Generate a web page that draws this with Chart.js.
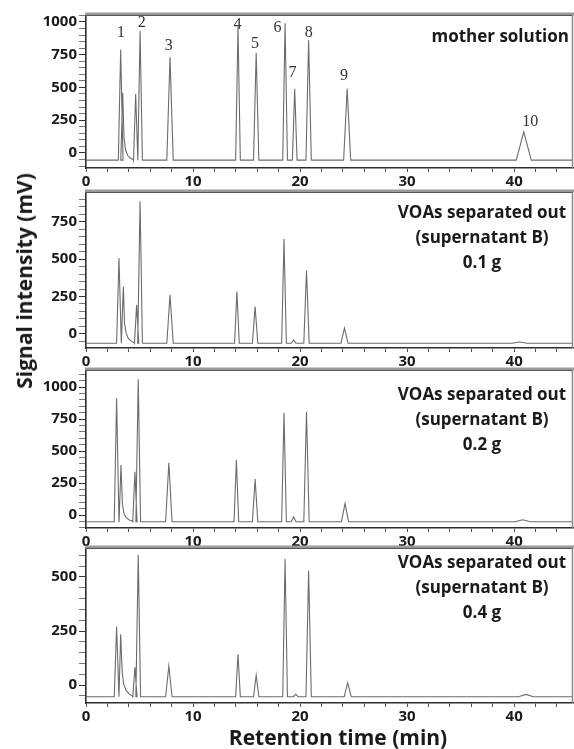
<!DOCTYPE html>
<html>
<head>
<meta charset="utf-8">
<script src="https://cdn.jsdelivr.net/npm/chart.js@4.4.0/dist/chart.umd.min.js"></script>
<style>
  html, body { margin: 0; padding: 0; background: #fff; }
  #wrap { position: relative; width: 574px; height: 749px; overflow: hidden;
          font-family: 'Open Sans', sans-serif; color: #1a1a1a; }
  #wrap canvas { position: absolute; left: 0; }
  .txt { position: absolute; font-weight: 700; font-size: 17px; line-height: 25px; white-space: nowrap; }
  .note { text-align: center; width: 220px; margin-left: -110px; }
  #ytitle { position: absolute; left: 24px; top: 281px; font-weight: 700; font-size: 21px; white-space: nowrap;
            transform: translate(-50%, -50%) rotate(-90deg); }
  #xtitle { position: absolute; left: 338px; top: 723px; font-weight: 700; font-size: 21px; line-height: 28px;
            white-space: nowrap; transform: translateX(-50%); }
</style>
</head>
<body>
<div id="wrap">
  <canvas id="c1"></canvas>
  <canvas id="c2"></canvas>
  <canvas id="c3"></canvas>
  <canvas id="c4"></canvas>

  <div class="txt" style="right:5px; top:23px;">mother solution</div>
  <div class="txt note" style="left:482px; top:199px;">VOAs separated out<br>(supernatant B)<br>0.1 g</div>
  <div class="txt note" style="left:482px; top:381px;">VOAs separated out<br>(supernatant B)<br>0.2 g</div>
  <div class="txt note" style="left:482px; top:549px;">VOAs separated out<br>(supernatant B)<br>0.4 g</div>

  <div id="ytitle">Signal intensity (mV)</div>
  <div id="xtitle">Retention time (min)</div>
</div>

<script>
const X_MAX = 45.5;

// ancho (media base, min) de cada pico, mismo orden en los 4 paneles
const anchoPico = [0.22, 0.18, 0.2, 0.22, 0.3, 0.22, 0.25, 0.22, 0.22, 0.25, 0.33, 0.7];

// panel 1 — mother solution
const rt1   = [3.24, 3.43, 4.64, 5.05, 7.85, 14.2, 15.9, 18.6, 19.5, 20.8, 24.4, 40.9];
const alto1 = [790, 460, 450, 930, 730, 960, 765, 990, 490, 860, 490, 160];
const base1 = -55;
const colaT1 = [3.55, 3.7, 3.9, 4.15, 4.45];
const colaV1 = [120, 20, -20, -40, -52];

// panel 2 — 0.1 g
const rt2   = [3.08, 3.49, 4.73, 5.05, 7.85, 14.1, 15.8, 18.5, 19.4, 20.6, 24.15, 40.5];
const alto2 = [507, 317, 194, 886, 261, 283, 183, 634, -40, 424, 38, -54];
const base2 = -62;
const colaT2 = [3.6, 3.75, 3.95, 4.25, 4.55];
const colaV2 = [70, 5, -30, -50, -60];

// panel 3 — 0.2 g
const rt3   = [2.86, 3.27, 4.57, 4.88, 7.74, 14.05, 15.8, 18.5, 19.4, 20.6, 24.2, 40.8];
const alto3 = [912, 391, 338, 1060, 409, 430, 281, 800, -13, 807, 91, -37];
const base3 = -52;
const colaT3 = [3.4, 3.55, 3.75, 4.05, 4.4];
const colaV3 = [90, 10, -20, -38, -49];

// panel 4 — 0.4 g
const rt4   = [2.86, 3.24, 4.57, 4.88, 7.74, 14.2, 15.9, 18.6, 19.6, 20.8, 24.45, 41.1];
const alto4 = [270, 235, 82, 602, 88, 142, 46, 583, -43, 529, 11, -43];
const base4 = -54;
const colaT4 = [3.38, 3.52, 3.75, 4.05, 4.4];
const colaV4 = [60, 5, -25, -42, -52];

// números de pico (solo panel 1)
const etiqTxt = ["1", "2", "3", "4", "5", "6", "7", "8", "9", "10"];
const etiqT   = [3.27, 5.2, 7.73, 14.15, 15.8, 17.9, 19.3, 20.8, 24.1, 41.5];
const etiqV   = [885, 962, 786, 947, 802, 924, 580, 885, 557, 206];

// rangos de eje y
const yMin = [-115, -94, -101, -83];
const yMax = [1053, 948, 1133, 634];

// ── Geometría ─────────────────────────────────────────────────────────
const PLOT_TOP = [15, 192, 370, 548];
const PLOT_BOT = [168, 348, 528, 703];
const PAD_TOP = 14;
const X_AX_H = 24;
const Y_AX_W = 86;

const C_LINEA = "#6c6c6c";
const C_EJE   = "#2e2e2e";
const FUENTE  = "'Open Sans', sans-serif";

// arma la traza: línea base + triángulo por pico, con cola tras el hombro (índice 1)
function armarTraza(rt, alto, base, colaT, colaV) {
  const pts = [{ x: 0, y: base }];
  rt.forEach((t, i) => {
    const w = anchoPico[i];
    pts.push({ x: t - w, y: base }, { x: t, y: alto[i] });
    if (i === 1) colaT.forEach((ct, k) => pts.push({ x: ct, y: colaV[k] }));
    else pts.push({ x: t + w, y: base });
  });
  pts.push({ x: X_MAX, y: base });
  return pts;
}

const marcoPlugin = {
  id: "marco",
  afterDraw(chart) {
    const { ctx, chartArea: a } = chart;
    ctx.save();
    ctx.strokeStyle = "#9a9a9a";
    ctx.lineWidth = 3;
    ctx.beginPath();
    ctx.moveTo(a.left - 1, a.top - 1);
    ctx.lineTo(a.right + 1, a.top - 1);
    ctx.stroke();
    ctx.strokeStyle = "#555";
    ctx.lineWidth = 1;
    ctx.beginPath();
    ctx.moveTo(a.left, a.top + 0.5);
    ctx.lineTo(a.right, a.top + 0.5);
    ctx.stroke();
    ctx.strokeStyle = "#888";
    ctx.lineWidth = 1.5;
    ctx.beginPath();
    ctx.moveTo(a.right - 0.5, a.top);
    ctx.lineTo(a.right - 0.5, a.bottom);
    ctx.stroke();
    ctx.restore();
  },
};

const etiquetasPlugin = {
  id: "etiquetas",
  afterDatasetsDraw(chart, args, opts) {
    if (!opts.txt) return;
    const { ctx, scales } = chart;
    ctx.save();
    ctx.fillStyle = "#333";
    ctx.font = "16px 'Liberation Serif', serif";
    ctx.textAlign = "center";
    ctx.textBaseline = "alphabetic";
    opts.txt.forEach((s, i) => {
      ctx.fillText(s, scales.x.getPixelForValue(opts.t[i]), scales.y.getPixelForValue(opts.v[i]));
    });
    ctx.restore();
  },
};

function crearPanel(idx, traza, etiq) {
  const canvas = document.getElementById("c" + (idx + 1));
  const alto = PLOT_BOT[idx] - PLOT_TOP[idx] + PAD_TOP + X_AX_H;
  canvas.width = 574;
  canvas.height = alto;
  canvas.style.top = (PLOT_TOP[idx] - PAD_TOP) + "px";
  canvas.style.width = "574px";
  canvas.style.height = alto + "px";

  return new Chart(canvas, {
    type: "line",
    data: {
      datasets: [{ data: traza, borderColor: C_LINEA, borderWidth: 1.1,
        pointRadius: 0, tension: 0, fill: false }],
    },
    options: {
      responsive: false, animation: false, devicePixelRatio: 1,
      layout: { padding: { top: PAD_TOP, right: 1, left: 0, bottom: 0 } },
      plugins: { legend: { display: false }, tooltip: { enabled: false },
                 etiquetas: etiq || {} },
      scales: {
        x: {
          type: "linear", min: 0, max: X_MAX,
          afterFit: s => { s.height = X_AX_H; },
          border: { color: C_EJE, width: 1.6 },
          grid: { drawOnChartArea: false, tickLength: 4, tickColor: "#555" },
          ticks: { stepSize: 2, includeBounds: false, autoSkip: false, maxRotation: 0, padding: 1,
                   color: "#1a1a1a", font: { family: FUENTE, size: 15, weight: "bold" },
                   callback: v => (v % 10 === 0 ? v : "") },
        },
        y: {
          min: yMin[idx], max: yMax[idx],
          afterFit: s => { s.width = Y_AX_W; },
          border: { color: C_EJE, width: 1.6 },
          grid: { drawOnChartArea: false, tickLength: 7,
                  tickColor: c => (c.tick && c.tick.value % 250 === 0 ? "#333" : "#777") },
          ticks: { stepSize: 50, includeBounds: false, autoSkip: false, padding: 2,
                   color: "#1a1a1a", font: { family: FUENTE, size: 15, weight: "bold" },
                   callback: v => (v % 250 === 0 ? v : "") },
        },
      },
    },
    plugins: [marcoPlugin, etiquetasPlugin],
  });
}

// ── Init ──────────────────────────────────────────────────────────────
crearPanel(0, armarTraza(rt1, alto1, base1, colaT1, colaV1), { txt: etiqTxt, t: etiqT, v: etiqV });
crearPanel(1, armarTraza(rt2, alto2, base2, colaT2, colaV2));
crearPanel(2, armarTraza(rt3, alto3, base3, colaT3, colaV3));
crearPanel(3, armarTraza(rt4, alto4, base4, colaT4, colaV4));
</script>
</body>
</html>
